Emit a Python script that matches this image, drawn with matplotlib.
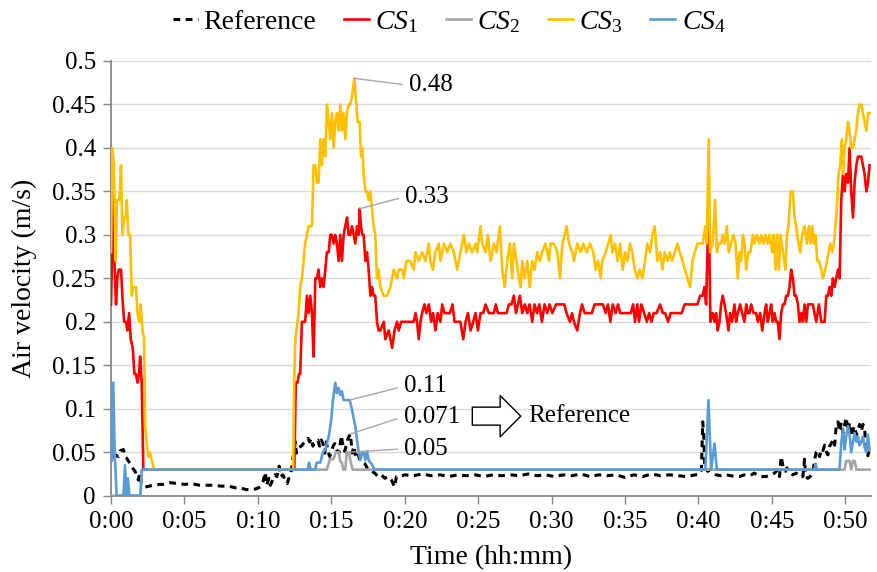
import numpy as np
import matplotlib
matplotlib.use("Agg")
import matplotlib.pyplot as plt
from matplotlib.ticker import FuncFormatter

plt.rcParams["font.family"] = ["Liberation Serif", "DejaVu Serif"]
plt.rcParams["mathtext.fontset"] = "custom"
plt.rcParams["mathtext.rm"] = "Liberation Serif"
plt.rcParams["mathtext.it"] = "Liberation Serif:italic"

# logged air velocity, (elapsed minutes, m/s)
REF = [(0.0,0.05),(0.15,0.04),(0.3,0.047),(0.5,0.045),(0.65,0.052),(0.84,0.053),(1.0,0.044),(1.07,0.043),
       (1.25,0.038),(1.4,0.033),(1.55,0.03),(1.64,0.028),(1.75,0.022),(1.86,0.018),(1.95,0.026),(2.05,0.016),
       (2.2,0.011),(2.32,0.01),(2.6,0.011),(2.9,0.012),(3.3,0.013),(3.6,0.013),(4.0,0.015),(4.5,0.014),
       (5.0,0.013),(5.5,0.014),(6.0,0.012),(6.5,0.012),(7.0,0.012),(7.5,0.011),(8.0,0.011),(8.5,0.009),
       (8.8,0.009),(9.2,0.007),(9.6,0.007),(9.9,0.008),(10.16,0.01),(10.35,0.016),(10.5,0.027),(10.6,0.012),
       (10.75,0.02),(10.85,0.012),(11.0,0.018),(11.15,0.024),(11.3,0.022),(11.45,0.034),(11.55,0.022),
       (11.7,0.024),(11.85,0.018),(12.0,0.014),(12.1,0.02),(12.25,0.026),(12.4,0.045),(12.55,0.062),
       (12.62,0.049),(12.73,0.055),(12.96,0.057),(13.18,0.062),(13.41,0.066),(13.52,0.062),(13.64,0.066),
       (13.75,0.057),(13.87,0.062),(14.09,0.064),(14.2,0.057),(14.32,0.064),(14.43,0.06),(14.55,0.049),
       (14.66,0.062),(14.77,0.051),(14.89,0.045),(15.12,0.057),(15.23,0.06),(15.34,0.053),(15.52,0.049),
       (15.68,0.069),(15.8,0.057),(15.91,0.051),(16.14,0.066),(16.3,0.071),(16.42,0.049),(16.54,0.057),
       (16.65,0.045),(16.82,0.049),(16.93,0.041),(17.28,0.037),(17.5,0.030),(17.73,0.028),(17.96,0.026),
       (18.18,0.022),(18.41,0.024),(18.64,0.02),(18.86,0.022),(19.09,0.018),(19.32,0.010),(19.43,0.022),
       (19.66,0.022),(20.0,0.024),(20.6,0.023),(21.2,0.025),(21.8,0.023),(22.4,0.024),(23.0,0.022),
       (23.6,0.024),(24.2,0.023),(24.8,0.024),(25.4,0.022),(26.0,0.024),(26.6,0.023),(27.2,0.024),
       (27.8,0.023),(28.4,0.025),(29.0,0.023),(29.6,0.024),(30.2,0.022),(30.8,0.024),(31.4,0.023),
       (32.0,0.025),(32.6,0.022),(33.2,0.024),(33.8,0.023),(34.4,0.024),(35.0,0.021),(35.6,0.024),
       (36.2,0.022),(36.8,0.025),(37.4,0.023),(38.0,0.024),(38.6,0.023),(39.2,0.022),(39.8,0.024),
       (40.1,0.025),(40.2,0.03),(40.29,0.085),(40.36,0.068),(40.43,0.033),(40.63,0.028),(40.75,0.030),
       (41.0,0.026),(41.2,0.024),(41.5,0.023),(41.9,0.024),(42.2,0.023),(42.5,0.022),(42.8,0.022),
       (43.1,0.024),(43.5,0.023),(43.8,0.026),(44.2,0.022),(44.6,0.022),(44.95,0.024),(45.18,0.026),
       (45.4,0.030),(45.52,0.022),(45.63,0.045),(45.75,0.034),(45.93,0.028),(46.02,0.032),(46.2,0.026),
       (46.43,0.024),(46.66,0.026),(46.88,0.022),(47.11,0.022),(47.22,0.042),(47.3,0.022),(47.45,0.02),
       (47.6,0.022),(47.79,0.026),(47.9,0.041),(48.02,0.05),(48.13,0.052),(48.25,0.045),(48.36,0.054),
       (48.47,0.052),(48.59,0.058),(48.7,0.051),(48.81,0.047),(48.93,0.057),(49.04,0.06),(49.15,0.064),
       (49.27,0.058),(49.38,0.080),(49.5,0.085),(49.61,0.074),(49.72,0.084),(49.84,0.072),(50.06,0.090),
       (50.18,0.074),(50.29,0.084),(50.4,0.068),(50.52,0.076),(50.63,0.08),(50.75,0.07),(50.97,0.082),
       (51.09,0.074),(51.2,0.082),(51.31,0.078),(51.43,0.048),(51.54,0.046),(51.65,0.057)]

CS1 = [(0.0,0.22),(0.07,0.28),(0.16,0.37),(0.25,0.26),(0.34,0.22),(0.43,0.25),(0.52,0.26),(0.68,0.26),
       (0.77,0.23),(0.89,0.20),(1.02,0.20),(1.11,0.19),(1.23,0.21),(1.34,0.18),(1.48,0.17),(1.59,0.14),
       (1.70,0.14),(1.80,0.13),(1.91,0.14),(1.98,0.16),(2.09,0.13),(2.2,0.03),(12.48,0.03),(12.58,0.13),
       (12.7,0.13),(12.8,0.14),(12.88,0.14),(13.0,0.20),(13.11,0.20),(13.22,0.20),(13.34,0.23),(13.45,0.21),
       (13.57,0.23),(13.68,0.21),(13.79,0.16),(13.91,0.25),(14.02,0.25),(14.13,0.26),(14.25,0.24),
       (14.36,0.25),(14.47,0.24),(14.59,0.26),(14.7,0.28),(14.82,0.28),(14.93,0.30),(15.04,0.30),
       (15.16,0.29),(15.27,0.30),(15.38,0.29),(15.5,0.27),(15.61,0.30),(15.72,0.27),(15.84,0.30),
       (15.95,0.31),(16.07,0.32),(16.18,0.30),(16.29,0.30),(16.41,0.31),(16.52,0.30),(16.63,0.29),
       (16.75,0.31),(16.86,0.30),(16.93,0.33),(17.02,0.31),(17.11,0.30),(17.2,0.30),(17.32,0.27),
       (17.43,0.28),(17.54,0.26),(17.66,0.23),(17.77,0.24),(17.88,0.23),(17.99,0.23),(18.11,0.20),
       (18.22,0.19),(18.34,0.19),(18.57,0.20),(18.68,0.18),(18.91,0.19),(19.14,0.17),(19.3,0.19),
       (19.48,0.20),(19.59,0.19),(19.75,0.20),(19.93,0.20),(20.16,0.20),(20.39,0.20),(20.61,0.20),
       (20.73,0.21),(20.84,0.20),(20.95,0.18),(21.07,0.20),(21.18,0.21),(21.34,0.22),(21.48,0.21),
       (21.64,0.22),(21.8,0.20),(21.93,0.21),(22.09,0.19),(22.25,0.21),(22.43,0.20),(22.55,0.22),
       (22.7,0.21),(22.89,0.21),(23.07,0.21),(23.25,0.22),(23.39,0.20),(23.57,0.20),(23.79,0.20),
       (23.98,0.18),(24.14,0.20),(24.3,0.21),(24.48,0.19),(24.66,0.20),(24.82,0.21),(24.98,0.19),
       (25.16,0.21),(25.34,0.21),(25.5,0.22),(25.73,0.21),(25.89,0.21),(26.07,0.21),(26.2,0.22),
       (26.34,0.21),(26.52,0.21),(26.75,0.21),(26.93,0.21),(27.09,0.22),(27.27,0.22),(27.43,0.23),
       (27.57,0.21),(27.84,0.23),(28.0,0.21),(28.18,0.22),(28.34,0.21),(28.5,0.22),(28.68,0.20),
       (28.84,0.22),(29.0,0.21),(29.16,0.22),(29.34,0.20),(29.52,0.22),(29.7,0.21),(29.86,0.22),
       (30.05,0.21),(30.3,0.22),(30.6,0.22),(30.86,0.22),(31.02,0.21),(31.25,0.20),(31.39,0.21),
       (31.52,0.20),(31.75,0.19),(31.93,0.21),(32.07,0.22),(32.25,0.21),(32.48,0.21),(32.73,0.21),
       (32.93,0.22),(33.18,0.22),(33.5,0.22),(33.68,0.21),(33.84,0.22),(34.0,0.20),(34.16,0.22),
       (34.36,0.21),(34.52,0.22),(34.68,0.21),(34.86,0.21),(35.14,0.21),(35.39,0.21),(35.55,0.22),
       (35.68,0.20),(35.84,0.22),(35.95,0.20),(36.11,0.22),(36.3,0.21),(36.48,0.20),(36.64,0.21),
       (36.8,0.20),(36.95,0.21),(37.14,0.21),(37.39,0.22),(37.57,0.21),(37.73,0.21),(37.93,0.20),
       (38.1,0.21),(38.3,0.21),(38.6,0.21),(38.86,0.21),(39.05,0.22),(39.3,0.22),(39.59,0.22),
       (39.93,0.22),(40.11,0.23),(40.29,0.23),(40.4,0.24),(40.52,0.22),(40.63,0.29),(40.7,0.34),
       (40.75,0.27),(40.81,0.20),(40.97,0.21),(41.09,0.20),(41.2,0.21),(41.31,0.19),(41.43,0.20),
       (41.54,0.22),(41.65,0.23),(41.77,0.22),(41.88,0.21),(42.04,0.19),(42.15,0.21),(42.29,0.20),
       (42.45,0.22),(42.56,0.20),(42.68,0.21),(42.84,0.22),(42.97,0.21),(43.13,0.20),(43.25,0.22),
       (43.36,0.21),(43.47,0.21),(43.59,0.22),(43.75,0.21),(43.93,0.21),(44.04,0.20),(44.2,0.21),
       (44.34,0.19),(44.5,0.21),(44.61,0.22),(44.72,0.20),(44.84,0.21),(44.95,0.22),(45.06,0.20),
       (45.18,0.21),(45.29,0.20),(45.4,0.20),(45.52,0.18),(45.63,0.21),(45.75,0.22),(45.86,0.22),
       (45.97,0.23),(46.09,0.23),(46.2,0.24),(46.31,0.26),(46.43,0.25),(46.54,0.23),(46.65,0.23),
       (46.77,0.22),(46.88,0.20),(47.0,0.21),(47.11,0.20),(47.22,0.22),(47.34,0.20),(47.45,0.22),
       (47.56,0.22),(47.79,0.22),(47.9,0.21),(48.02,0.20),(48.2,0.22),(48.36,0.20),(48.59,0.20),
       (48.7,0.23),(48.81,0.23),(48.93,0.24),(49.04,0.23),(49.15,0.25),(49.27,0.24),(49.38,0.25),
       (49.5,0.26),(49.61,0.25),(49.72,0.34),(49.84,0.37),(49.95,0.35),(50.06,0.37),(50.18,0.36),
       (50.29,0.40),(50.4,0.35),(50.52,0.32),(50.63,0.36),(50.75,0.38),(50.86,0.39),(50.97,0.39),
       (51.09,0.39),(51.2,0.38),(51.31,0.37),(51.43,0.35),(51.54,0.36),(51.65,0.38)]

CS2 = [(0.0,0.0),(2.0,0.0),(2.1,0.03),(14.7,0.03),(14.9,0.042),(15.15,0.042),(15.3,0.05),(15.5,0.05),
       (15.6,0.04),(15.72,0.038),(15.82,0.03),(15.95,0.03),(16.05,0.05),(16.2,0.05),(16.3,0.04),
       (16.45,0.03),(49.95,0.03),(50.06,0.04),(50.29,0.04),(50.4,0.03),(50.52,0.04),(50.63,0.04),
       (50.75,0.03),(51.65,0.03)]

CS3 = [(0.0,0.28),(0.09,0.40),(0.2,0.38),(0.32,0.27),(0.39,0.34),(0.55,0.34),(0.61,0.35),(0.68,0.38),
       (0.77,0.30),(0.89,0.32),(1.0,0.32),(1.07,0.34),(1.18,0.30),(1.3,0.30),(1.41,0.23),(1.52,0.24),
       (1.7,0.24),(1.8,0.21),(1.93,0.20),(2.02,0.22),(2.14,0.19),(2.25,0.18),(2.32,0.08),(2.43,0.06),
       (2.54,0.045),(2.65,0.05),(2.78,0.04),(2.93,0.03),(12.4,0.03),(12.47,0.13),(12.55,0.18),(12.77,0.21),
       (12.88,0.24),(13.0,0.25),(13.11,0.27),(13.22,0.29),(13.34,0.30),(13.45,0.31),(13.57,0.31),
       (13.68,0.31),(13.79,0.38),(13.91,0.38),(14.02,0.36),(14.13,0.36),(14.25,0.41),(14.36,0.38),
       (14.47,0.41),(14.59,0.39),(14.7,0.45),(14.82,0.43),(14.93,0.41),(15.04,0.44),(15.16,0.40),
       (15.27,0.43),(15.38,0.44),(15.5,0.42),(15.61,0.45),(15.72,0.42),(15.84,0.44),(15.95,0.41),
       (16.07,0.44),(16.18,0.45),(16.29,0.45),(16.41,0.46),(16.57,0.48),(16.7,0.45),(16.79,0.43),
       (16.93,0.43),(17.02,0.39),(17.11,0.40),(17.2,0.37),(17.32,0.35),(17.43,0.35),(17.54,0.34),
       (17.66,0.35),(17.77,0.33),(17.88,0.31),(17.99,0.30),(18.11,0.25),(18.22,0.26),(18.34,0.24),
       (18.57,0.23),(18.8,0.23),(19.02,0.24),(19.25,0.26),(19.48,0.25),(19.59,0.26),(19.82,0.26),
       (19.93,0.25),(20.11,0.27),(20.39,0.27),(20.61,0.26),(20.73,0.28),(20.95,0.27),(21.18,0.28),
       (21.41,0.27),(21.63,0.29),(21.75,0.27),(21.91,0.26),(22.09,0.28),(22.32,0.29),(22.43,0.27),
       (22.66,0.29),(22.89,0.28),(23.11,0.29),(23.34,0.28),(23.57,0.26),(23.79,0.28),(24.02,0.30),
       (24.2,0.28),(24.36,0.29),(24.59,0.28),(24.82,0.29),(24.93,0.28),(25.16,0.31),(25.27,0.29),
       (25.5,0.28),(25.66,0.30),(25.84,0.27),(26.07,0.29),(26.25,0.28),(26.48,0.31),(26.64,0.26),
       (26.8,0.24),(26.98,0.27),(27.16,0.29),(27.32,0.25),(27.43,0.29),(27.61,0.27),(27.77,0.25),
       (27.89,0.24),(28.0,0.27),(28.16,0.25),(28.34,0.27),(28.5,0.24),(28.68,0.27),(28.84,0.26),
       (29.02,0.28),(29.2,0.27),(29.36,0.28),(29.59,0.29),(29.82,0.27),(29.93,0.29),(30.16,0.29),
       (30.39,0.28),(30.57,0.25),(30.73,0.29),(30.89,0.30),(31.02,0.31),(31.18,0.29),(31.41,0.28),
       (31.52,0.27),(31.75,0.29),(31.98,0.28),(32.16,0.29),(32.39,0.28),(32.61,0.29),(32.84,0.28),
       (33.0,0.26),(33.16,0.27),(33.34,0.25),(33.45,0.27),(33.68,0.28),(33.86,0.29),(34.02,0.30),
       (34.14,0.28),(34.32,0.29),(34.5,0.27),(34.66,0.29),(34.84,0.26),(35.0,0.28),(35.16,0.27),
       (35.34,0.29),(35.5,0.28),(35.66,0.26),(35.84,0.25),(36.0,0.26),(36.18,0.25),(36.36,0.27),
       (36.52,0.29),(36.7,0.28),(36.86,0.30),(37.02,0.31),(37.2,0.27),(37.39,0.28),(37.55,0.26),
       (37.7,0.28),(37.89,0.27),(38.05,0.28),(38.2,0.27),(38.39,0.28),(38.57,0.29),(38.73,0.28),
       (38.91,0.27),(39.07,0.26),(39.25,0.25),(39.43,0.24),(39.59,0.27),(39.75,0.28),(39.93,0.29),
       (40.11,0.29),(40.29,0.29),(40.47,0.31),(40.56,0.29),(40.7,0.41),(40.79,0.28),(40.97,0.29),
       (41.13,0.34),(41.25,0.28),(41.38,0.29),(41.54,0.29),(41.65,0.30),(41.77,0.29),(41.93,0.31),
       (42.06,0.28),(42.22,0.29),(42.38,0.30),(42.52,0.29),(42.68,0.25),(42.79,0.28),(42.9,0.27),
       (43.02,0.30),(43.13,0.29),(43.25,0.26),(43.4,0.28),(43.54,0.28),(43.7,0.30),(43.81,0.29),
       (43.97,0.30),(44.15,0.29),(44.27,0.30),(44.43,0.29),(44.56,0.30),(44.72,0.29),(44.84,0.30),
       (45.02,0.28),(45.13,0.30),(45.25,0.26),(45.36,0.30),(45.47,0.26),(45.59,0.30),(45.75,0.28),
       (45.93,0.26),(46.02,0.30),(46.13,0.31),(46.27,0.35),(46.43,0.35),(46.54,0.32),(46.65,0.31),
       (46.81,0.29),(46.93,0.28),(47.06,0.30),(47.22,0.31),(47.38,0.29),(47.52,0.31),(47.63,0.29),
       (47.75,0.31),(47.86,0.29),(47.97,0.30),(48.09,0.27),(48.2,0.27),(48.36,0.26),(48.47,0.25),
       (48.63,0.26),(48.75,0.27),(48.86,0.28),(48.97,0.29),(49.11,0.28),(49.22,0.29),(49.38,0.32),
       (49.54,0.37),(49.65,0.38),(49.77,0.41),(49.84,0.37),(49.95,0.40),(50.06,0.41),(50.18,0.43),
       (50.29,0.42),(50.4,0.40),(50.52,0.40),(50.63,0.41),(50.75,0.42),(50.86,0.44),(50.97,0.45),
       (51.09,0.45),(51.2,0.44),(51.31,0.43),(51.43,0.42),(51.54,0.44),(51.65,0.44)]

CS4 = [(0.0,0.06),(0.06,0.04),(0.15,0.13),(0.25,0.05),(0.38,0.0),(0.85,0.0),(0.95,0.035),(1.05,0.0),
       (1.15,0.02),(1.25,0.0),(2.0,0.0),(2.1,0.03),(13.4,0.03),(13.48,0.038),(13.6,0.03),(13.9,0.03),
       (14.0,0.038),(14.25,0.038),(14.43,0.05),(14.59,0.053),(14.82,0.068),(14.97,0.084),(15.11,0.11),
       (15.27,0.13),(15.38,0.118),(15.49,0.124),(15.61,0.116),(15.72,0.12),(15.84,0.11),(16.25,0.11),
       (16.41,0.099),(16.52,0.089),(16.63,0.08),(16.75,0.064),(16.86,0.051),(16.97,0.041),(17.09,0.049),
       (17.2,0.05),(17.31,0.041),(17.43,0.051),(17.54,0.041),(17.66,0.038),(17.77,0.036),(17.93,0.03),
       (40.47,0.03),(40.68,0.11),(40.86,0.03),(41.09,0.06),(41.25,0.03),(47.9,0.03),(47.97,0.037),
       (48.06,0.03),(49.6,0.03),(49.72,0.06),(49.84,0.077),(49.95,0.053),(50.06,0.068),(50.18,0.08),
       (50.29,0.07),(50.4,0.05),(50.52,0.062),(50.63,0.072),(50.75,0.062),(50.86,0.068),(50.97,0.058),
       (51.09,0.062),(51.2,0.068),(51.31,0.056),(51.43,0.05),(51.54,0.07),(51.65,0.052)]

SERIES = [("Reference", REF, "black"), (r"$CS_{1}$", CS1, "#FF0000"), (r"$CS_{2}$", CS2, "#A5A5A5"),
          (r"$CS_{3}$", CS3, "#FFC000"), (r"$CS_{4}$", CS4, "#5B9BD5")]

# value callouts: (series, minute of the labelled sample, text position)
CALLOUTS = [(CS3, 16.57, (20.31, 0.472)), (CS1, 16.93, (20.04, 0.344)), (CS4, 16.25, (19.97, 0.126)),
            (REF, 16.3, (19.93, 0.091)), (CS2, 16.2, (19.97, 0.054))]

fig = plt.figure(figsize=(8.77, 5.72), dpi=100)
ax = fig.add_axes([0.1266, 0.1334, 0.8666, 0.76])

for name, data, col in SERIES:
    t, v = zip(*data)
    if name == "Reference":
        ax.plot(t, v, color=col, lw=2.2, ls=(0, (2.2, 1.8)), label=name, zorder=3)
    else:
        ax.plot(t, v, color=col, lw=1.9, label=name, zorder=3)

for data, tm, (tx, ty) in CALLOUTS:
    val = dict(data)[tm]
    ax.annotate(f"{val:g}", xy=(tm, val), xytext=(tx, ty), fontsize=18, ha="left", va="center",
                arrowprops=dict(arrowstyle="-", color="#a6a6a6", lw=1.0, relpos=(0, 0.5),
                                shrinkA=3, shrinkB=0), zorder=5)

# block arrow pointing at the Reference trace label
ax.annotate("", xy=(27.9, 0.0915), xytext=(24.6, 0.0915),
            arrowprops=dict(arrowstyle="simple,head_length=0.55,head_width=1.1,tail_width=0.48",
                            fc="white", ec="black", lw=1.0, mutation_scale=27, shrinkA=0, shrinkB=0))
ax.text(28.43, 0.0912, "Reference", fontsize=18, ha="left", va="center")

ax.set_xlim(0, 51.75)
ax.set_ylim(0, 0.5)
ax.set_xticks(np.arange(0, 51, 5))
ax.xaxis.set_major_formatter(FuncFormatter(lambda m, _: f"0:{int(round(m)):02d}"))
ax.set_yticks(np.arange(0, 0.501, 0.05))
ax.yaxis.set_major_formatter(FuncFormatter(lambda v, _: f"{round(v, 2):g}"))
ax.grid(axis="y", color="#d9d9d9", lw=1.0, zorder=0)
ax.set_axisbelow(True)
for s in ("top", "right"):
    ax.spines[s].set_visible(False)
for s in ("left", "bottom"):
    ax.spines[s].set_color("#878787")
    ax.spines[s].set_linewidth(1.3)
ax.tick_params(direction="out", length=6, width=1.0, color="#878787", labelsize=18, pad=5)

ax.set_ylabel("Air velocity (m/s)", fontsize=20)
ax.yaxis.set_label_coords(-0.097, 0.5)
ax.set_xlabel("Time (hh:mm)", fontsize=20)
ax.xaxis.set_label_coords(0.5, -0.113)

fig.legend(loc="center", bbox_to_anchor=(0.512, 0.962), ncol=5, frameon=False, fontsize=20,
           handlelength=0.9, handletextpad=0.22, columnspacing=1.0)

fig.savefig("out.png", dpi=100)
